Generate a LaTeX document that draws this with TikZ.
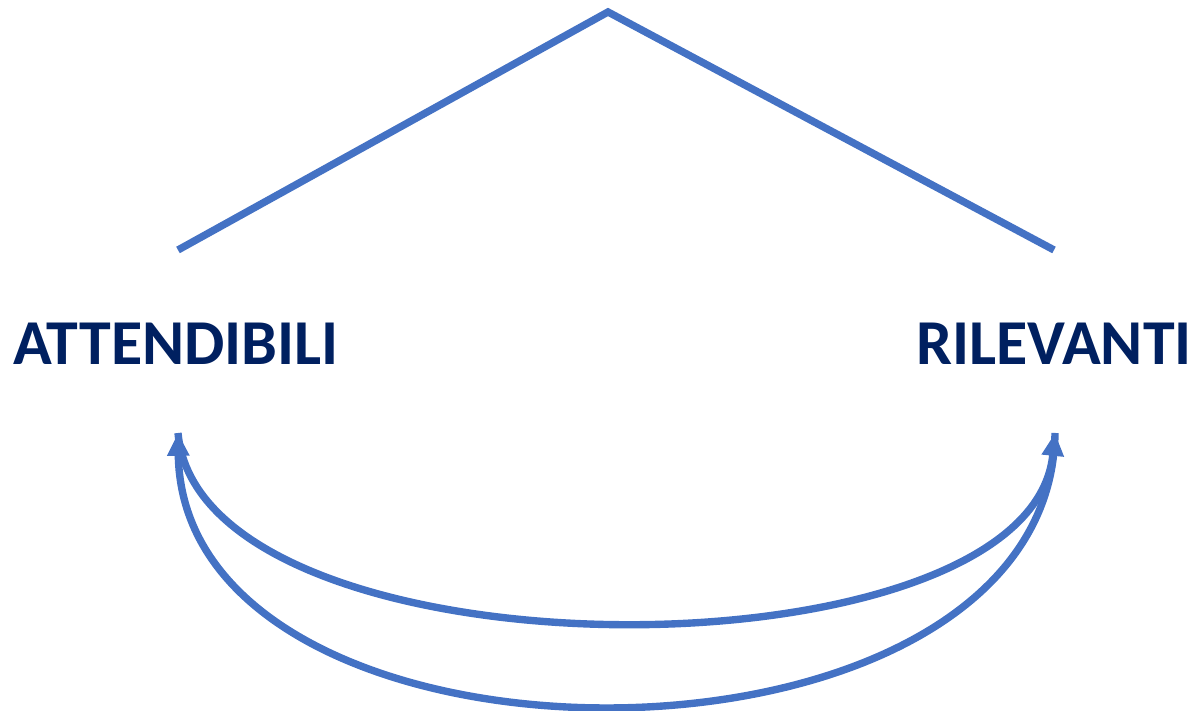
\documentclass[tikz,border=0pt]{standalone}
\usepackage{fontspec}
\setmainfont{Carlito}
\usetikzlibrary{arrows.meta}
\definecolor{lineblue}{HTML}{4472C4}
\definecolor{navy}{HTML}{002060}
\begin{document}
\begin{tikzpicture}[>={Triangle[length=6.5pt,width=6pt]}, line width=2.1pt]
  \useasboundingbox (0, 0) rectangle (11.95, 7.11);
  \tikzset{
    label/.style={font=\fontsize{18.2}{22}\selectfont\bfseries, text=navy, inner sep=0pt},
    link/.style={draw=lineblue, line width=2.1pt}
  }

  % Labels
  \node[label] (att) at (1.76, 3.67) {ATTENDIBILI};
  \node[label] (ril) at (10.54, 3.67) {RILEVANTI};

  % Roof ends and curve ends
  \coordinate (apex) at (6.08, 6.99);
  \coordinate (attTop) at (1.78, 4.61);
  \coordinate (rilTop) at (10.54, 4.61);
  \coordinate (attBot) at (1.78, 2.78);
  \coordinate (rilBot) at (10.55, 2.78);

  % Roof
  \draw[link] (attTop) -- (apex) -- (rilTop);

  % Inner curve: attendibili to rilevanti
  \draw[link, ->] (attBot) .. controls (2.0, 0.26) and (10.3, 0.26) .. (rilBot);
  % Outer curve: rilevanti to attendibili
  \draw[link, ->] (rilBot) .. controls (10.5, -0.85) and (1.83, -0.85) .. (attBot);

\end{tikzpicture}
\end{document}
